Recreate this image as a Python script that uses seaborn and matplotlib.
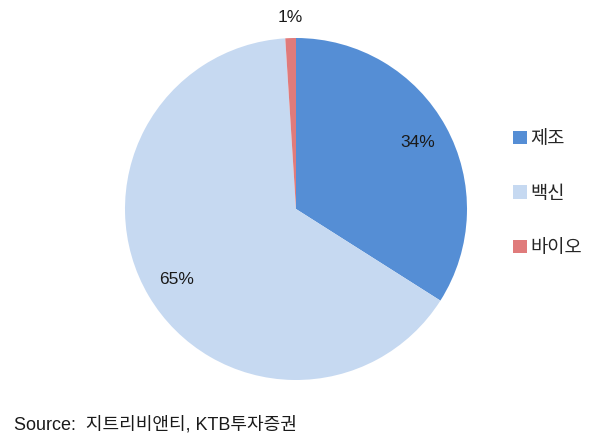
import numpy as np
import matplotlib
matplotlib.use("Agg")
import matplotlib.pyplot as plt
import seaborn as sns

# data
labels = ["제조", "백신", "바이오"]
shares = [34, 65, 1]
colors = ["#558ED5", "#C6D9F1", "#E07B7B"]
source = "Source:  지트리비앤티, KTB투자증권"

sns.set_theme(style="white")
plt.rcParams["font.family"] = ["Liberation Sans", "Noto Sans CJK KR", "DejaVu Sans"]

fig = plt.figure(figsize=(5.91, 4.48), dpi=100)
ax = fig.add_axes([125 / 591, 68 / 448, 342 / 591, 342 / 448])

wedges, _ = ax.pie(shares, colors=colors, startangle=90, counterclock=False,
                   radius=1.0, wedgeprops=dict(linewidth=0))
ax.set_xlim(-1, 1)
ax.set_ylim(-1, 1)
ax.set_aspect("equal")
ax.axis("off")

# percentage labels, small slice goes outside
total = sum(shares)
for w, v in zip(wedges, shares):
    mid = np.deg2rad((w.theta1 + w.theta2) / 2)
    r = 1.12 if v / total < 0.05 else 0.81
    ax.text(r * np.cos(mid), r * np.sin(mid), f"{v / total:.0%}",
            ha="center", va="center", fontsize=12.5, color="#1a1a1a")

fig.legend(wedges, labels, loc="center left", bbox_to_anchor=(504 / 591, 0.567),
           frameon=False, fontsize=13.5, handlelength=0.7, handleheight=0.7,
           handletextpad=0.2, labelspacing=1.98, borderpad=0)

fig.text(14 / 591, 23 / 448, source, fontsize=13, ha="left", va="center",
         color="#1a1a1a")

fig.savefig("out.png", dpi=100, facecolor="white")
